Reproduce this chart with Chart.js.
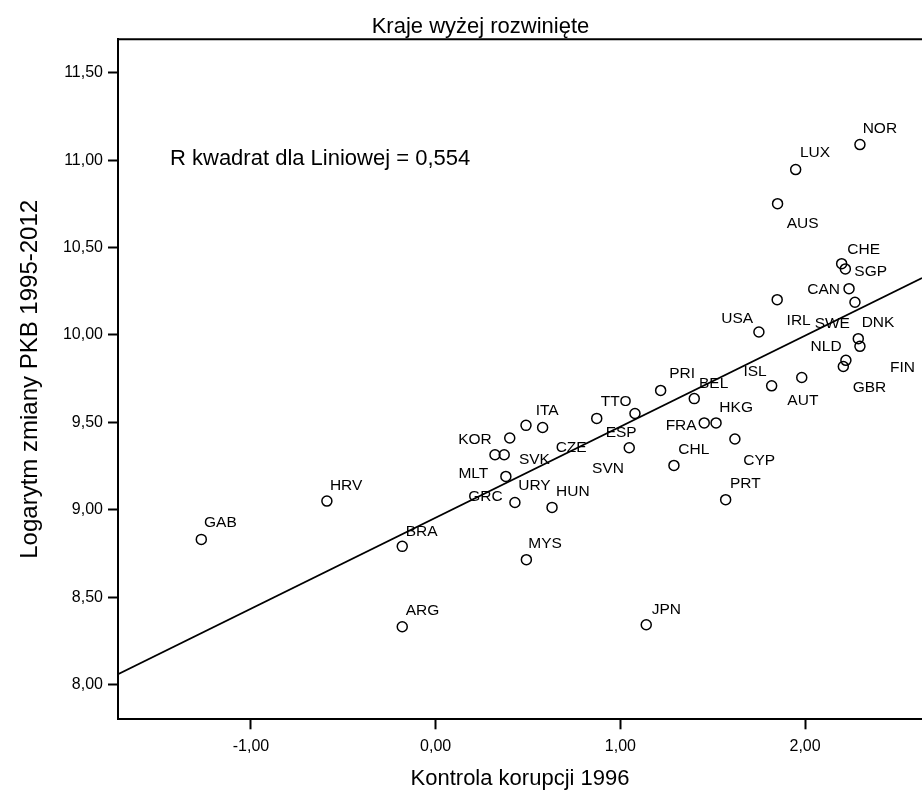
<!DOCTYPE html>
<html>
<head>
<meta charset="utf-8">
<script src="https://cdn.jsdelivr.net/npm/chart.js@4/dist/chart.umd.min.js"></script>
<style>
html,body{margin:0;padding:0;background:#fff;overflow:hidden}
#wrap{width:922px;height:792px;position:relative}
canvas{display:block}
</style>
</head>
<body>
<div id="wrap"><canvas id="c" width="922" height="792"></canvas></div>
<script>
// ---- data ----
const countries = ['NOR','LUX','AUS','CHE','SGP','CAN','SWE','IRL','USA','DNK','FIN','NLD','GBR','AUT','ISL',
  'PRI','BEL','HKG','FRA','CYP','CHL','PRT','TTO','ESP','SVN','CZE','ITA','KOR','SVK','MLT','GRC','URY','HUN',
  'GAB','HRV','BRA','ARG','MYS','JPN'];
const corruption1996 = [2.297,1.949,1.851,2.198,2.218,2.238,2.270,1.849,1.750,2.288,2.297,2.221,2.207,1.982,1.819,
  1.218,1.400,1.518,1.454,1.620,1.290,1.570,0.872,1.079,1.048,0.579,0.489,0.401,0.371,0.321,0.380,0.429,0.630,
  -1.269,-0.589,-0.181,-0.181,0.491,1.140];
const logGdpChange = [11.089,10.946,10.751,10.408,10.378,10.265,10.187,10.202,10.017,9.979,9.935,9.855,9.820,9.757,9.709,
  9.683,9.636,9.497,9.497,9.405,9.254,9.058,9.523,9.551,9.355,9.471,9.483,9.411,9.315,9.315,9.191,9.042,9.014,
  8.831,9.050,8.791,8.331,8.715,8.343];
const xTickValues = [-1, 0, 1, 2];
const yTickValues = [8, 8.5, 9, 9.5, 10, 10.5, 11, 11.5];
const fitLineX = [-1.72, 2.633];
const fitLineY = [8.06, 10.326];
const rSquaredText = 'R kwadrat dla Liniowej = 0,554';
const chartTitle = 'Kraje wyżej rozwinięte';
const xTitle = 'Kontrola korupcji 1996';
const yTitle = 'Logarytm zmiany PKB 1995-2012';

// label placement (style): [anchor side, dx px, dy px to caps centre]
const labelPlacement = {
  NOR:['L',2.7,-16.7], LUX:['L',4.3,-18.3], AUS:['L',9.2,19.3], CHE:['L',5.6,-14.7], SGP:['L',9,1.4],
  CAN:['R',-9,0.3], SWE:['R',-5,20], IRL:['L',9.4,20], USA:['R',-5.7,-15], DNK:['L',3.4,-17.3],
  FIN:['L',30,20], NLD:['R',-4.3,-14.7], GBR:['L',9.4,20], AUT:['L',-14.4,21.6], ISL:['R',-5,-15.2],
  PRI:['L',8.6,-18.4], BEL:['L',4.7,-16.3], HKG:['L',3.3,-16.6], FRA:['R',-7.6,1.7], CYP:['L',8.3,20],
  CHL:['L',4.3,-17.4], PRT:['L',4.3,-17.3], TTO:['L',4,-17.7], ESP:['R',1.7,18], SVN:['R',-5.3,19.3],
  CZE:['L',13,19], ITA:['L',9.7,-15.7], KOR:['R',-18,1], SVK:['L',14.7,3.3], MLT:['R',-6.7,17.7],
  GRC:['R',-3.3,19.3], URY:['L',3.3,-17.7], HUN:['L',4,-16.7], GAB:['L',2.7,-18], HRV:['L',3,-16.3],
  BRA:['L',3.4,-16], ARG:['L',3.4,-17.7], MYS:['L',2,-17.3], JPN:['L',5.4,-16.7]
};

const FONT = "'Liberation Sans', Arial, sans-serif";
Chart.defaults.font.family = FONT;
Chart.defaults.color = '#000';

const fmt = v => Number(v).toFixed(2).replace('.', ',');

const overlay = {
  id: 'overlay',
  afterDatasetsDraw(chart) {
    const ctx = chart.ctx, area = chart.chartArea;
    const meta = chart.getDatasetMeta(0);
    ctx.save();
    ctx.fillStyle = '#000';
    ctx.font = '15.5px ' + FONT;
    ctx.textBaseline = 'alphabetic';
    meta.data.forEach((pt, i) => {
      const p = labelPlacement[countries[i]];
      ctx.textAlign = p[0] === 'L' ? 'left' : 'right';
      ctx.fillText(countries[i], pt.x + p[1], pt.y + p[2] + 5.5);
    });
    ctx.strokeStyle = '#000';
    ctx.lineWidth = 2;
    ctx.beginPath();
    ctx.moveTo(area.left, area.top);
    ctx.lineTo(area.right, area.top);
    ctx.stroke();
    ctx.font = '22px ' + FONT;
    ctx.textAlign = 'center';
    ctx.fillText(chartTitle, 480.5, 32.7);
    ctx.textAlign = 'left';
    ctx.fillText(rSquaredText, area.left + 52, 165);
    ctx.restore();
  }
};

new Chart(document.getElementById('c'), {
  type: 'scatter',
  data: {
    datasets: [
      {
        type: 'scatter',
        data: countries.map((c, i) => ({ x: corruption1996[i], y: logGdpChange[i] })),
        pointRadius: 5, pointHoverRadius: 5,
        pointBorderWidth: 1.5, pointBorderColor: '#000',
        pointBackgroundColor: 'rgba(255,255,255,0)'
      },
      {
        type: 'line',
        data: fitLineX.map((x, i) => ({ x: x, y: fitLineY[i] })),
        borderColor: '#000', borderWidth: 1.8,
        pointRadius: 0, fill: false, tension: 0
      }
    ]
  },
  options: {
    responsive: false,
    animation: false,
    events: [],
    layout: { autoPadding: false, padding: { top: 39.3, right: 0, bottom: 0, left: 0 } },
    plugins: { legend: { display: false }, tooltip: { enabled: false }, title: { display: false } },
    scales: {
      x: {
        type: 'linear', min: -1.72, max: 2.633,
        afterBuildTicks: s => { s.ticks = xTickValues.map(v => ({ value: v })); },
        afterFit: s => { s.height = 72.7; },
        ticks: { font: { size: 16 }, color: '#000', padding: 8, maxRotation: 0, autoSkip: false, callback: v => fmt(v) },
        grid: { drawOnChartArea: false, drawTicks: true, tickLength: 10, tickWidth: 2, tickColor: '#000' },
        border: { display: true, color: '#000', width: 2 },
        title: { display: true, text: xTitle, font: { size: 22 }, color: '#000', padding: { top: 0, bottom: 0 } }
      },
      y: {
        type: 'linear', min: 7.802, max: 11.691,
        afterBuildTicks: s => { s.ticks = yTickValues.map(v => ({ value: v })); },
        afterFit: s => { s.width = 118; },
        ticks: { font: { size: 16 }, color: '#000', padding: 5, autoSkip: false, callback: v => fmt(v) },
        grid: { drawOnChartArea: false, drawTicks: true, tickLength: 10, tickWidth: 2, tickColor: '#000' },
        border: { display: true, color: '#000', width: 2 },
        title: { display: true, text: yTitle, font: { size: 24 }, color: '#000', padding: { top: 15.6, bottom: 0 } }
      }
    }
  },
  plugins: [overlay]
});
</script>
</body>
</html>
